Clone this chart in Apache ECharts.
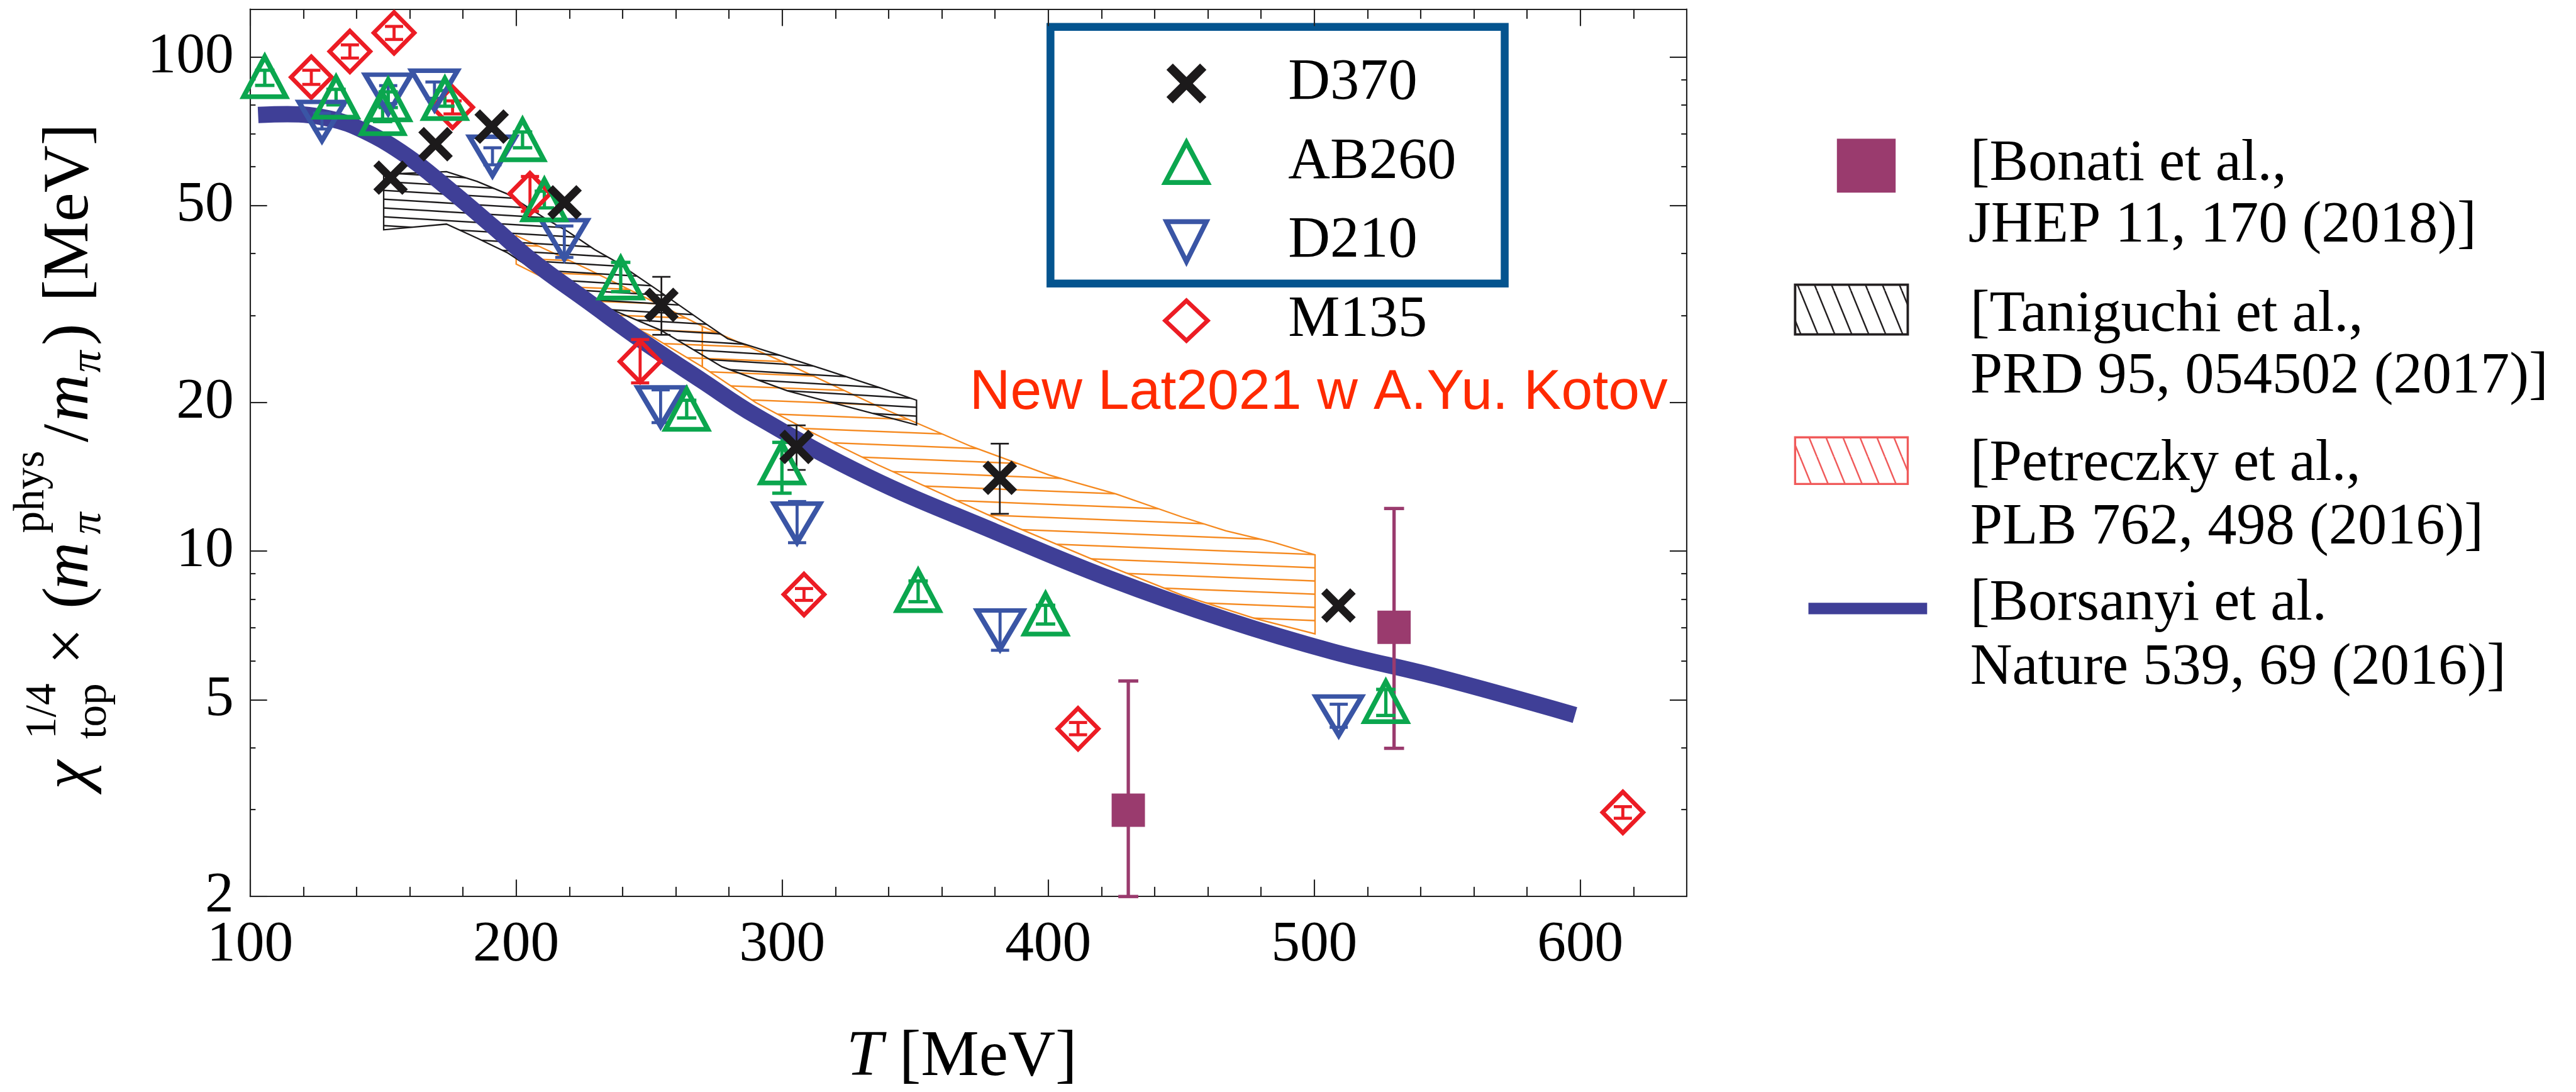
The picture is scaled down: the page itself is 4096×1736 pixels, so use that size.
<!DOCTYPE html>
<html><head><meta charset="utf-8">
<script src="https://cdn.jsdelivr.net/npm/echarts@6/dist/echarts.min.js"></script>
<style>html,body{margin:0;padding:0;background:#fff;overflow:hidden}#c{width:4096px;height:1736px;}</style>
</head><body><div id="c"></div>
<script>
// ---------------- data ----------------
const xMajorTicks = [100, 200, 300, 400, 500, 600];
const xMinorTicks = [120,140,160,180,220,240,260,280,320,340,360,380,420,440,460,480,520,540,560,580,620];
const yMajorTicks = [2, 5, 10, 20, 50, 100];
const yMinorTicks = [3, 4, 6, 7, 8, 9, 30, 40, 60, 70, 80, 90];

const d370T  = [152.8, 169.7, 190.8, 218.2, 254.6, 305.4, 381.8, 509.1];
const d370V  = [57.0, 66.6, 72.3, 50.8, 31.5, 16.25, 14.07, 7.76];
const d370Lo = [57.0, 66.6, 72.3, 50.8, 27.4, 14.6, 11.9, 7.76];
const d370Hi = [57.0, 66.6, 72.3, 50.8, 35.9, 17.97, 16.5, 7.76];

const ab260T  = [105.5, 132.3, 149.8, 151.9, 173.2, 202.4, 210.6, 239.3, 264.1, 299.9, 351.1, 399.0, 526.9];
const ab260V  = [91.2, 82.9, 76.8, 81.9, 82.4, 68.0, 51.4, 35.7, 19.36, 15.08, 8.32, 7.46, 4.96];
const ab260Lo = [87.6, 80.0, 74.0, 79.0, 79.5, 65.5, 49.5, 33.5, 18.6, 13.1, 7.9, 7.12, 4.65];
const ab260Hi = [94.0, 86.0, 79.5, 85.0, 85.5, 70.5, 53.5, 38.4, 20.2, 16.6, 8.7, 7.77, 5.25];

const d210T  = [127.0, 151.9, 169.3, 191.1, 218.1, 254.3, 305.6, 381.9, 509.2];
const d210V  = [74.1, 84.1, 85.7, 63.0, 42.7, 19.6, 11.4, 6.93, 4.64];
const d210Lo = [71.5, 80.5, 82.5, 60.5, 39.3, 18.2, 10.4, 6.3, 4.4];
const d210Hi = [77.0, 87.5, 89.0, 65.5, 45.5, 21.2, 12.6, 7.6, 4.9];

const m135T  = [123.0, 137.5, 154.1, 176.1, 205.2, 246.6, 308.2, 411.2, 616.0];
const m135V  = [91.0, 102.6, 111.9, 79.1, 52.9, 24.2, 8.17, 4.37, 2.96];
const m135Lo = [88.0, 99.5, 108.5, 76.7, 48.7, 21.9, 7.95, 4.25, 2.88];
const m135Hi = [94.0, 105.8, 115.3, 81.5, 57.3, 26.8, 8.4, 4.5, 3.04];

const bonatiT  = [430.1, 530.0];
const bonatiV  = [2.99, 7.01];
const bonatiLo = [2.0, 3.99];
const bonatiHi = [5.46, 12.2];

const borsanyiCurve = [[103,76.3],[114,76.6],[130,75.0],[143,70.8],[159,63.0],[174,54.4],[191,45.5],[206,38.7],[227,32.0],[248,26.5],[270,22.1],[290,18.8],[332,14.16],[380,10.95],[423,8.8],[467,7.26],[507,6.26],[546,5.57],[598,4.66]];

const taniguchiUpper = [[150.2,57.9],[173.8,58.6],[185.3,56.0],[196.4,52.9],[211.8,46.8],[219.5,44.3],[229.4,40.8],[237.2,38.6],[252.3,34.0],[271.1,28.9],[279.5,26.9],[296.2,25.2],[316,23.3],[338,21.3],[350.5,20.2]];
const taniguchiLower = [[350.5,18.0],[302,21.1],[277.4,23.6],[254.3,28.0],[221.7,33.2],[207.4,36.8],[196.9,40.1],[185.3,43.0],[173.8,45.9],[150.2,44.7]];

const petreczkyAUpper = [[200,43.5],[227,37.2],[250,32.3],[270,28.5]];
const petreczkyALower = [[270,23.6],[250,27.4],[227,31.5],[210,35.8],[200,38.1]];
const petreczkyBUpper = [[270,28.5],[300,24.2],[336.3,19.6],[370.9,16.3],[400.3,14.26],[425.4,13.06],[450.4,11.72],[466.8,10.99],[484.7,10.42],[500.3,9.83]];
const petreczkyBLower = [[500.3,6.80],[477.6,7.31],[450.4,8.14],[420.4,9.44],[384,11.41],[336,14.95],[311,17.4],[290,20.0],[270,23.6]];

// ---------------- layout helpers ----------------
const S = 0.963;
const s = v => v * S;
const SERIF = 'Liberation Serif';
const MID = 0.3375; // baseline offset below 'middle' for Liberation Serif

function hatchH(color, spacing, slope, lw) {
  const H = Math.max(2, Math.round(spacing));
  const W = Math.round(H / slope);
  const c = document.createElement('canvas'); c.width = W; c.height = H;
  const g = c.getContext('2d'); g.strokeStyle = color; g.lineWidth = lw;
  for (let k = -1; k <= 1; k++) { g.beginPath(); g.moveTo(0, k * H); g.lineTo(W, (k + 1) * H); g.stroke(); }
  return c;
}
function hatchDiag(color, spacing, dxdy, lw) {
  const W = Math.max(2, Math.round(spacing));
  const H = Math.round(W / dxdy);
  const c = document.createElement('canvas'); c.width = W; c.height = H;
  const g = c.getContext('2d'); g.strokeStyle = color; g.lineWidth = lw;
  for (let k = -1; k <= 1; k++) { g.beginPath(); g.moveTo(k * W, 0); g.lineTo((k + 1) * W, H); g.stroke(); }
  return c;
}

const C_BLACK = '#1c1a1b', C_GREEN = '#0ba64e', C_BLUE = '#3a55a5', C_RED = '#ec1c24',
      C_PURPLE = '#9a3b6e', C_ORANGE = '#f5891f', C_CURVE = '#3f3f97', C_BOX = '#04548f';

const xPath = 'path://M0,16L16,0L50,34L84,0L100,16L66,50L100,84L84,100L50,66L16,100L0,84L34,50Z';
const invTri = 'path://M0,0L100,0L50,100Z';

const lg10 = Math.log10;
const yMin = 2, yMax = 125;

function band(name, upper, lower, color, pattern, lw, z) {
  return {
    type: 'custom', name, coordinateSystem: 'cartesian2d', xAxisIndex: 0, yAxisIndex: 0,
    silent: true, z, data: [[upper[0][0], upper[0][1]]], encode: {x: 0, y: 1},
    renderItem: (params, api) => {
      const pts = upper.concat(lower).map(p => api.coord(p));
      return {type: 'polygon', shape: {points: pts},
        style: {fill: {image: pattern, repeat: 'repeat'}, stroke: color, lineWidth: lw, lineJoin: 'miter'}};
    }
  };
}
function errBars(name, T, Lo, Hi, color, lw, cap) {
  return {
    type: 'custom', name: name + ' err', xAxisIndex: 0, yAxisIndex: 0, silent: true, z: 5,
    data: T.map((t, i) => [t, Lo[i], Hi[i]]), encode: {x: 0, y: [1, 2]},
    renderItem: (params, api) => {
      const t = api.value(0), lo = api.value(1), hi = api.value(2);
      if (!(hi > lo)) return null;
      const a = api.coord([t, lo]), b = api.coord([t, hi]); const c = cap / 2;
      const st = {stroke: color, lineWidth: lw};
      return {type: 'group', children: [
        {type: 'line', shape: {x1: a[0], y1: a[1], x2: b[0], y2: b[1]}, style: st},
        {type: 'line', shape: {x1: a[0] - c, y1: a[1], x2: a[0] + c, y2: a[1]}, style: st},
        {type: 'line', shape: {x1: b[0] - c, y1: b[1], x2: b[0] + c, y2: b[1]}, style: st}
      ]};
    }
  };
}
function scatter(name, T, V, symbol, size, itemStyle) {
  return {type: 'scatter', name, xAxisIndex: 0, yAxisIndex: 0, z: 6, silent: true,
    data: T.map((t, i) => [t, V[i]]), symbol, symbolSize: size,
    itemStyle: Object.assign({opacity: 1}, itemStyle)};
}

const blackHatch = hatchH(C_BLACK, s(14.5), 0.06, s(2.4));
const orangeHatch = hatchH(C_ORANGE, s(22), 0.04, s(2.4));
const legBlackHatch = hatchDiag('#231f20', s(28.5), 0.41, s(2.6));
const legRedHatch = hatchDiag('#f05a5a', s(28.5), 0.41, s(2.6));

const axLine = {show: true, lineStyle: {color: '#222', width: s(2.2)}};
const tickStyle = {color: '#222', width: s(2.2)};
const labelFont = {fontFamily: SERIF, fontSize: s(95), color: '#000'};

function xAx(pos, ticks, len, labels) {
  return {type: 'value', min: 100, max: 640, position: pos, gridIndex: 0,
    axisLine: labels !== null ? axLine : {show: false},
    axisTick: {show: true, inside: true, length: s(len), customValues: ticks, lineStyle: tickStyle},
    axisLabel: labels ? Object.assign({show: true, customValues: ticks, margin: s(33.6),
      formatter: v => String(Math.round(v))}, labelFont) : {show: false},
    splitLine: {show: false}};
}
function yAx(pos, ticks, len, labels, showLine) {
  const tv = ticks.map(lg10);
  return {type: 'value', min: lg10(yMin), max: lg10(yMax), position: pos, gridIndex: 0,
    axisLine: showLine ? axLine : {show: false},
    axisTick: {show: true, inside: true, length: s(len), customValues: tv, lineStyle: tickStyle},
    axisLabel: labels ? Object.assign({show: true, customValues: tv, margin: s(27),
      formatter: v => String(Math.round(Math.pow(10, v)))}, labelFont) : {show: false},
    splitLine: {show: false}};
}

// y-axis title pieces (reference px, local rotated frame; baseline offsets)
function tpiece(text, lx, base, fs, italic) {
  return {type: 'text', x: s(lx), y: s(base) - MID * s(fs),
    style: {text, fontFamily: SERIF, fontSize: s(fs), fontStyle: italic ? 'italic' : 'normal',
      fill: '#000', align: 'left', verticalAlign: 'middle', textAlign: 'left', textVerticalAlign: 'middle'}};
}
const yTitle = {type: 'group', x: s(152), y: s(1303), rotation: Math.PI / 2, silent: true, children: [
  tpiece('\u03c7', 0, 0, 108, true),
  tpiece('1/4', 83, -55, 72, false),
  tpiece('top', 83, 28, 72, false),
  tpiece('\u00d7', 206, 0, 108, false),
  tpiece('(', 298, 0, 108, false),
  tpiece('m', 330, 0, 108, true),
  tpiece('phys', 423, -75, 72, false),
  tpiece('\u03c0', 421, 18, 72, true),
  tpiece('/', 573, 0, 108, false),
  tpiece('m', 607, 0, 108, true),
  tpiece('\u03c0', 688, 18, 72, true),
  tpiece(')', 733, 0, 108, false),
  tpiece('[MeV]', 805, 0, 108, false)
]};

function gtext(text, x, base, fs, family, color) {
  const mid = family === SERIF ? MID : 0.3465;
  return {type: 'text', x: s(x), y: s(base) - mid * s(fs), silent: true,
    style: {text, fontFamily: family, fontSize: s(fs), fill: color || '#000',
      align: 'left', verticalAlign: 'middle', textAlign: 'left', textVerticalAlign: 'middle'}};
}

const graphics = [
  yTitle,
  {type: 'rect', silent: true, shape: {x: s(1734.5), y: s(44.5), width: s(750), height: s(423.5)},
    style: {fill: 'none', stroke: C_BOX, lineWidth: s(13)}},
  gtext('New Lat2021 w A.Yu. Kotov', 1601, 682, 93, 'Liberation Sans', '#ff2a00'),
  // right legend
  {type: 'rect', silent: true, shape: {x: s(3033), y: s(229), width: s(97), height: s(89)}, style: {fill: C_PURPLE}},
  gtext('[Bonati et al.,', 3253, 304, 96, SERIF),
  gtext('JHEP 11, 170 (2018)]', 3250, 406, 96, SERIF),
  {type: 'rect', silent: true, shape: {x: s(2964), y: s(470), width: s(186), height: s(82)},
    style: {fill: {image: legBlackHatch, repeat: 'repeat'}, stroke: '#231f20', lineWidth: s(4)}},
  gtext('[Taniguchi et al.,', 3253, 553, 96, SERIF),
  gtext('PRD 95, 054502 (2017)]', 3253, 655, 96, SERIF),
  {type: 'rect', silent: true, shape: {x: s(2964), y: s(722), width: s(186), height: s(77)},
    style: {fill: {image: legRedHatch, repeat: 'repeat'}, stroke: '#f05a5a', lineWidth: s(3.5)}},
  gtext('[Petreczky et al.,', 3253, 799, 96, SERIF),
  gtext('PLB 762, 498 (2016)]', 3253, 904, 96, SERIF),
  {type: 'line', silent: true, shape: {x1: s(2986), y1: s(1004.5), x2: s(3182), y2: s(1004.5)},
    style: {stroke: C_CURVE, lineWidth: s(19)}},
  gtext('[Borsanyi et al.', 3253, 1030, 96, SERIF),
  gtext('Nature 539, 69 (2016)]', 3253, 1136, 96, SERIF)
];

const option = {
  animation: false,
  backgroundColor: '#fff',
  grid: {left: s(413), top: s(15), width: s(2372), height: s(1465), outerBoundsMode: 'none', containLabel: false},
  xAxis: [
    Object.assign(xAx('bottom', xMajorTicks, 28, true), {
      name: '{it|T} [MeV]', nameLocation: 'middle', nameGap: s(212.5),
      nameTextStyle: {fontFamily: SERIF, fontSize: s(108), color: '#000', padding: [0, s(22), 0, 0],
        rich: {it: {fontFamily: SERIF, fontSize: s(108), fontStyle: 'italic', color: '#000'}}}}),
    xAx('bottom', xMinorTicks, 16, null),
    xAx('top', xMajorTicks, 28, false),
    xAx('top', xMinorTicks, 16, null)
  ],
  yAxis: [
    {type: 'log', logBase: 10, min: yMin, max: yMax, gridIndex: 0, show: false},
    yAx('left', yMajorTicks, 28, true, true),
    yAx('left', yMinorTicks, 9, false, false),
    yAx('right', yMajorTicks, 28, false, true),
    yAx('right', yMinorTicks, 9, false, false)
  ],
  legend: {
    orient: 'vertical', left: s(1920), top: s(90), padding: 0,
    itemWidth: s(70), itemHeight: s(66), itemGap: s(35), selectedMode: false,
    textStyle: {fontFamily: SERIF, fontSize: s(96), color: '#000', padding: [0, 0, 0, s(133) - 5]},
    data: [
      {name: 'D370', icon: xPath, itemStyle: {color: C_BLACK, borderWidth: 0, opacity: 1}},
      {name: 'AB260', icon: 'triangle', itemStyle: {color: 'rgba(0,0,0,0)', borderColor: C_GREEN, borderWidth: s(8), borderJoin: 'miter', opacity: 1}},
      {name: 'D210', icon: invTri, itemStyle: {color: 'rgba(0,0,0,0)', borderColor: C_BLUE, borderWidth: s(8), borderJoin: 'miter', opacity: 1}},
      {name: 'M135', icon: 'diamond', itemStyle: {color: 'rgba(0,0,0,0)', borderColor: C_RED, borderWidth: s(7), borderJoin: 'miter', opacity: 1}}
    ]
  },
  graphic: graphics,
  series: [
    band('Petreczky A', petreczkyAUpper, petreczkyALower, C_ORANGE, orangeHatch, s(2.4), 1),
    band('Petreczky B', petreczkyBUpper, petreczkyBLower, C_ORANGE, orangeHatch, s(2.4), 1),
    band('Taniguchi', taniguchiUpper, taniguchiLower, C_BLACK, blackHatch, s(2.4), 2),
    {type: 'line', name: 'Borsanyi', xAxisIndex: 0, yAxisIndex: 0, z: 3, silent: true,
      data: borsanyiCurve, showSymbol: false, symbol: 'none', smooth: 0.4,
      lineStyle: {color: C_CURVE, width: s(27), cap: 'butt', join: 'round', opacity: 1}},
    errBars('Bonati', bonatiT, bonatiLo, bonatiHi, C_PURPLE, s(5.5), s(33)),
    scatter('Bonati', bonatiT, bonatiV, 'rect', s(55), {color: C_PURPLE}),
    errBars('M135', m135T, m135Lo, m135Hi, C_RED, s(5), s(30)),
    scatter('M135', m135T, m135V, 'diamond', [s(67), s(68)], {color: 'rgba(0,0,0,0)', borderColor: C_RED, borderWidth: s(7), borderJoin: 'miter'}),
    errBars('D210', d210T, d210Lo, d210Hi, C_BLUE, s(5), s(30)),
    scatter('D210', d210T, d210V, invTri, [s(76), s(64)], {color: 'rgba(0,0,0,0)', borderColor: C_BLUE, borderWidth: s(8), borderJoin: 'miter'}),
    errBars('AB260', ab260T, ab260Lo, ab260Hi, C_GREEN, s(5.5), s(32)),
    scatter('AB260', ab260T, ab260V, 'triangle', [s(70), s(66)], {color: 'rgba(0,0,0,0)', borderColor: C_GREEN, borderWidth: s(8), borderJoin: 'miter'}),
    errBars('D370', d370T, d370Lo, d370Hi, C_BLACK, s(2.8), s(30)),
    scatter('D370', d370T, d370V, xPath, s(57), {color: C_BLACK})
  ]
};
const chart = echarts.init(document.getElementById('c'), null, {renderer: 'canvas'});
chart.setOption(option);
</script></body></html>
